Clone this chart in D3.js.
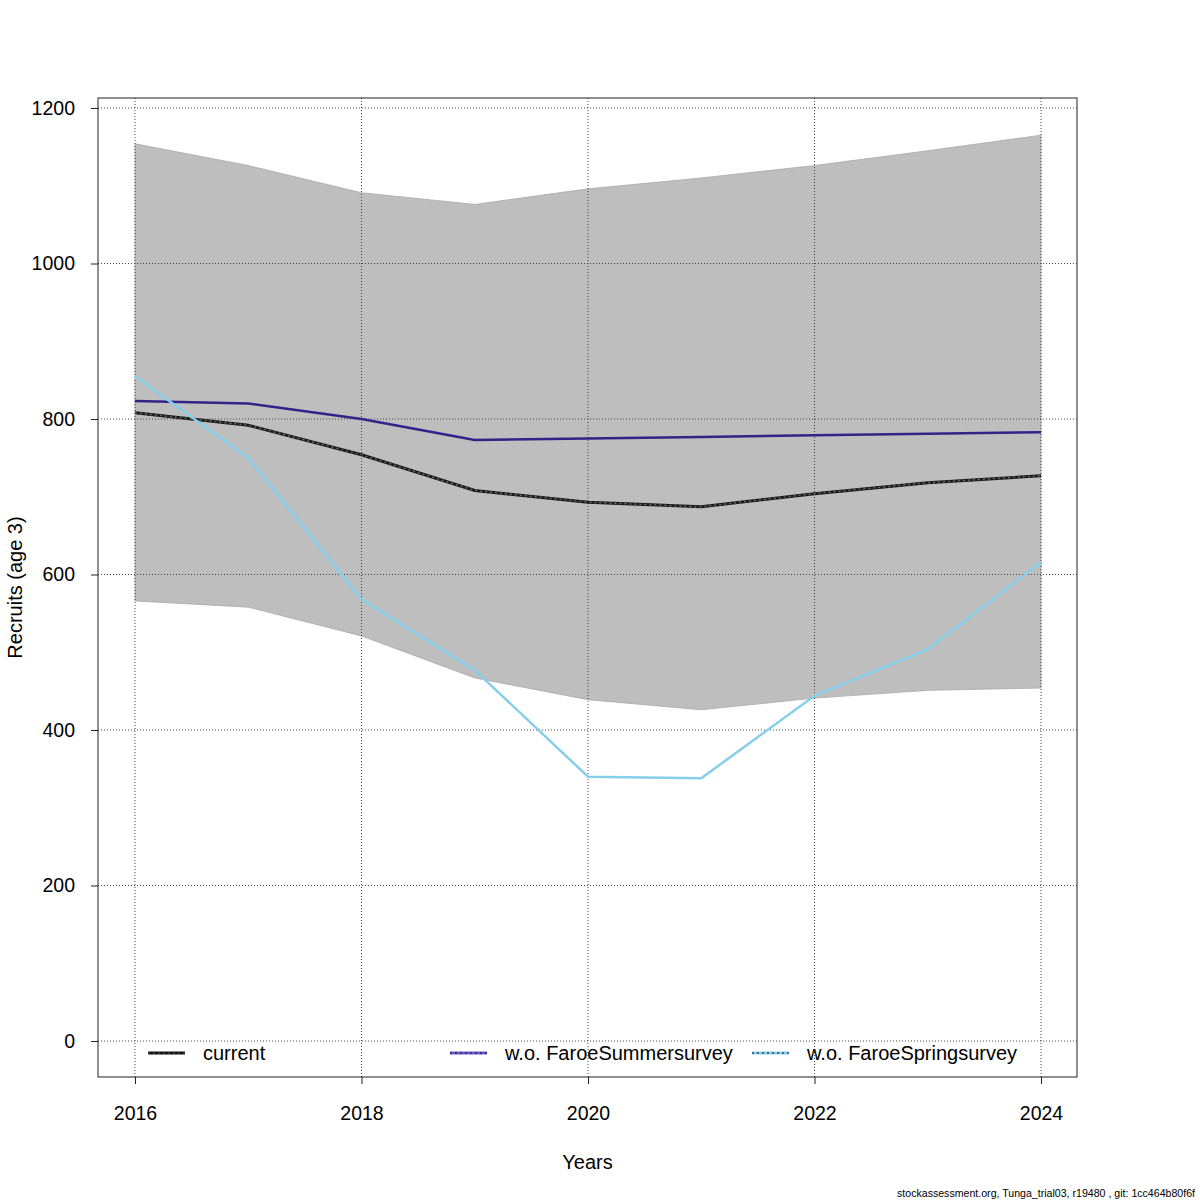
<!DOCTYPE html>
<html>
<head>
<meta charset="utf-8">
<script src="https://cdn.jsdelivr.net/npm/d3@7"></script>
<style>
  body { margin: 0; background: #fff; }
  text { font-family: "Liberation Sans", Arial, sans-serif; }
</style>
</head>
<body>
<div id="chart"></div>
<script>
'use strict';

var years = [2016, 2017, 2018, 2019, 2020, 2021, 2022, 2023, 2024];
var upper = [1154, 1126, 1091, 1076, 1096, 1110, 1126, 1145, 1165];
var lower = [566, 558, 521, 467, 439, 426, 441, 451, 454];
var current = [808, 792, 754, 708, 693, 687, 704, 718, 727];
var summer = [823, 820, 800, 773, 775, 777, 779, 781, 783];
var spring = [855, 750, 568, 477, 340, 338, 444, 504, 616];
var xTicks = [2016, 2018, 2020, 2022, 2024];
var yTicks = [0, 200, 400, 600, 800, 1000, 1200];
var legendLabels = ['current', 'w.o. FaroeSummersurvey', 'w.o. FaroeSpringsurvey'];

var W = 1200, H = 1200;
var box = { left: 98, top: 98, right: 1077, bottom: 1077 };

var svg = d3.select('#chart').append('svg')
  .attr('width', W)
  .attr('height', H);

svg.append('rect')
  .attr('width', W)
  .attr('height', H)
  .attr('fill', 'white');

var x = d3.scaleLinear().domain([2016, 2024]).range([135, 1041]);
var y = d3.scaleLinear().domain([0, 1200]).range([1041, 108]);

// confidence band
var band = years.map(function(yr, i) {
  return { x: yr, lo: lower[i], hi: upper[i] };
});
svg.append('path')
  .datum(band)
  .attr('fill', '#bebebe')
  .attr('stroke', '#a8a8a8')
  .attr('stroke-width', 0.8)
  .attr('d', d3.area()
    .x(function(d) { return x(d.x); })
    .y0(function(d) { return y(d.lo); })
    .y1(function(d) { return y(d.hi); }));

// grid
var grid = svg.append('g')
  .attr('stroke', '#444')
  .attr('stroke-width', 1)
  .attr('stroke-dasharray', '1,2');
xTicks.forEach(function(t) {
  grid.append('line')
    .attr('x1', x(t)).attr('x2', x(t))
    .attr('y1', box.top).attr('y2', box.bottom);
});
yTicks.forEach(function(t) {
  grid.append('line')
    .attr('x1', box.left).attr('x2', box.right)
    .attr('y1', y(t)).attr('y2', y(t));
});

var line = d3.line()
  .x(function(d, i) { return x(years[i]); })
  .y(function(d) { return y(d); });

// current
svg.append('path')
  .datum(current)
  .attr('fill', 'none')
  .attr('stroke', '#1a1a1a')
  .attr('stroke-width', 3)
  .attr('d', line);
svg.append('path')
  .datum(current)
  .attr('fill', 'none')
  .attr('stroke', '#777')
  .attr('stroke-width', 1.2)
  .attr('stroke-dasharray', '2,3')
  .attr('d', line);

// summer
svg.append('path')
  .datum(summer)
  .attr('fill', 'none')
  .attr('stroke', '#332288')
  .attr('stroke-width', 2.5)
  .attr('d', line);

// spring
svg.append('path')
  .datum(spring)
  .attr('fill', 'none')
  .attr('stroke', '#87ceeb')
  .attr('stroke-width', 2.5)
  .attr('d', line);

// box
svg.append('rect')
  .attr('x', box.left)
  .attr('y', box.top)
  .attr('width', box.right - box.left)
  .attr('height', box.bottom - box.top)
  .attr('fill', 'none')
  .attr('stroke', '#222')
  .attr('stroke-width', 1);

// axes
var xAxis = d3.axisBottom(x).tickValues(xTicks).tickFormat(d3.format('d'))
  .tickSize(7).tickPadding(22);
svg.append('g')
  .attr('transform', 'translate(0,' + box.bottom + ')')
  .call(xAxis)
  .call(function(g) { g.select('.domain').remove(); })
  .selectAll('text')
  .attr('font-size', 19.5)
  .attr('fill', '#000');

var yAxis = d3.axisLeft(y).tickValues(yTicks).tickFormat(d3.format('d'))
  .tickSize(7).tickPadding(16);
svg.append('g')
  .attr('transform', 'translate(' + box.left + ',0)')
  .call(yAxis)
  .call(function(g) { g.select('.domain').remove(); })
  .selectAll('text')
  .attr('font-size', 19.5)
  .attr('fill', '#000');

svg.selectAll('.tick line').attr('stroke', '#222');
svg.selectAll('.tick text').attr('font-family', '"Liberation Sans", Arial, sans-serif');

svg.append('text')
  .attr('x', (box.left + box.right) / 2)
  .attr('y', 1169)
  .attr('text-anchor', 'middle')
  .attr('font-size', 20)
  .text('Years');

svg.append('text')
  .attr('transform', 'translate(22,' + ((box.top + box.bottom) / 2) + ') rotate(-90)')
  .attr('text-anchor', 'middle')
  .attr('font-size', 20)
  .text('Recruits (age 3)');

// legend
var legendX = [148, 450, 752];
var legendColors = ['#111', '#6a5acd', '#87ceeb'];
var legend = svg.append('g');
legendLabels.forEach(function(lab, i) {
  legend.append('line')
    .attr('x1', legendX[i]).attr('x2', legendX[i] + 37)
    .attr('y1', 1053).attr('y2', 1053)
    .attr('stroke', legendColors[i])
    .attr('stroke-width', 3);
  legend.append('line')
    .attr('x1', legendX[i]).attr('x2', legendX[i] + 37)
    .attr('y1', 1053).attr('y2', 1053)
    .attr('stroke', i === 0 ? '#555' : '#111')
    .attr('stroke-width', 1.2)
    .attr('stroke-dasharray', '2,3');
  legend.append('text')
    .attr('x', legendX[i] + 55)
    .attr('y', 1060)
    .attr('font-size', 20)
    .text(lab);
});

svg.append('text')
  .attr('x', 1195)
  .attr('y', 1197)
  .attr('text-anchor', 'end')
  .attr('font-size', 10.6)
  .text('stockassessment.org, Tunga_trial03, r19480 , git: 1cc464b80f6f');
</script>
</body>
</html>
